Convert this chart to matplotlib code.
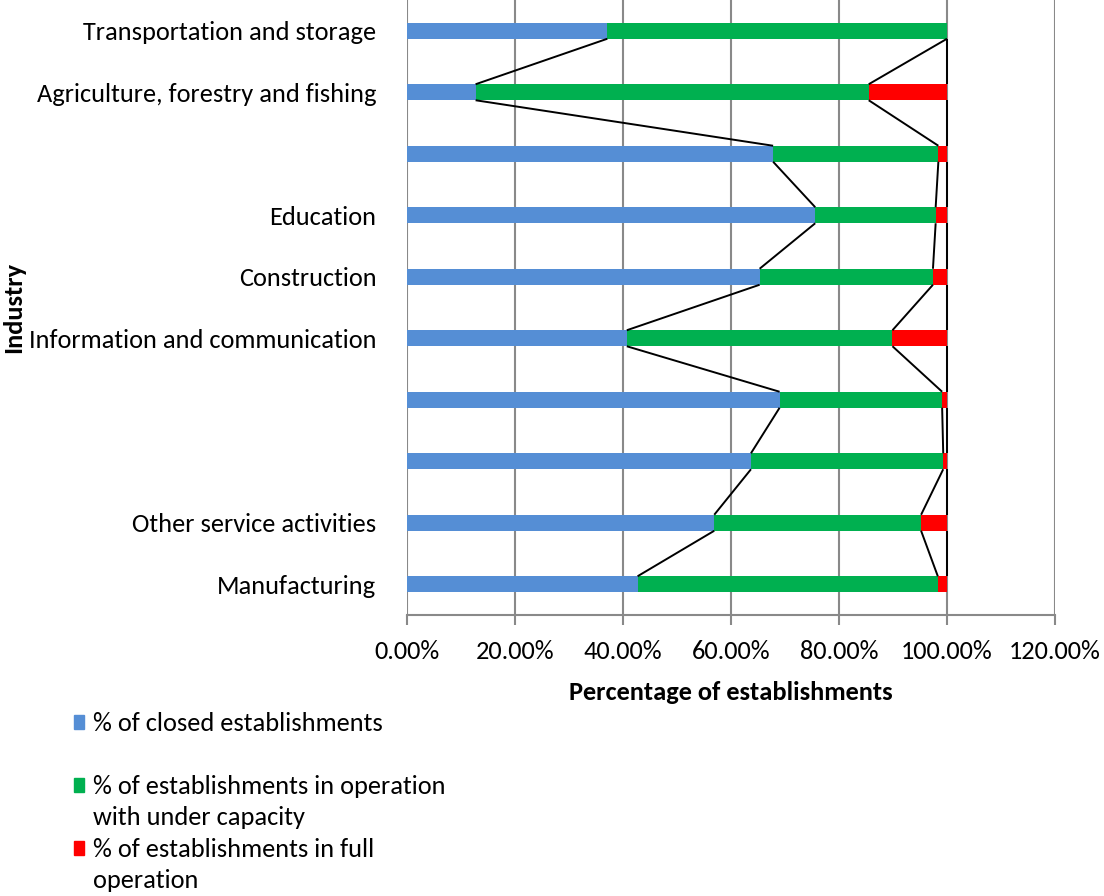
import numpy as np
import matplotlib.pyplot as plt
from matplotlib.patches import Rectangle

plt.rcParams['font.family'] = ['Carlito', 'Lato', 'DejaVu Sans']

# Industries from bottom to top; some rows carry no label
industries = [
    "Manufacturing",
    "Other service activities",
    "",
    "",
    "Information and communication",
    "Construction",
    "Education",
    "",
    "Agriculture, forestry and fishing",
    "Transportation and storage",
]
closed = [42.7, 56.9, 63.7, 69.0, 40.7, 65.3, 75.6, 67.8, 12.7, 37.1]
under_capacity = [55.6, 38.3, 35.6, 30.1, 49.2, 32.1, 22.3, 30.6, 72.8, 62.9]
full_operation = [1.7, 4.8, 0.7, 0.9, 10.1, 2.6, 2.1, 1.6, 14.5, 0.0]

series_names = [
    "% of closed establishments",
    "% of establishments in operation\nwith under capacity",
    "% of establishments in full\noperation",
]
colors = ["#558ED5", "#00B050", "#FF0000"]
FS = 19

fig = plt.figure(figsize=(11.04, 8.96), dpi=100)
ax = fig.add_axes([407 / 1104, 1 - 615 / 896, 648 / 1104, 615 / 896])

y = np.arange(len(industries))
h = 0.26
left = np.zeros(len(industries))
levels = []
for vals, color in zip([closed, under_capacity, full_operation], colors):
    vals = np.array(vals)
    ax.barh(y, vals, left=left, height=h, color=color, zorder=3)
    left = left + vals
    levels.append(left.copy())

# series lines joining the cumulative edges of neighbouring bars
for lev in levels:
    for i in range(len(industries) - 1):
        ax.plot([lev[i], lev[i + 1]], [i + h / 2, i + 1 - h / 2],
                color="black", lw=1.4, zorder=4, solid_capstyle="butt")

ax.set_xlim(0, 120)
ax.set_ylim(-0.5, len(industries) - 0.5)
ax.set_xticks(np.arange(0, 121, 20))
ax.set_xticklabels([f"{v:.2f}%" for v in np.arange(0, 121, 20)], fontsize=FS)
ax.set_yticks(y)
ax.set_yticklabels(industries, fontsize=FS)
ax.tick_params(axis="y", length=0, pad=22)
ax.tick_params(axis="x", length=7, width=1.5, color="#898989", pad=11, direction="out")
ax.grid(axis="x", color="#898989", lw=1.5, zorder=0)
for side in ["top", "right", "left"]:
    ax.spines[side].set_visible(False)
ax.spines["bottom"].set_color("#898989")
ax.spines["bottom"].set_linewidth(1.5)

ax.set_xlabel("Percentage of establishments", fontsize=FS, fontweight="bold")
ax.xaxis.set_label_coords(0.5, -0.108)
ax.set_ylabel("Industry", fontsize=FS, fontweight="bold")
ax.yaxis.set_label_coords(-0.59, 0.5)

# legend block under the chart
legend_rows = [722, 785, 848]
for name, color, ypx in zip(series_names, colors, legend_rows):
    fig.add_artist(Rectangle((74 / 1104, 1 - (ypx + 7) / 896), 10 / 1104, 14 / 896,
                             transform=fig.transFigure, color=color))
    fig.text(93 / 1104, 1 - (ypx - 10) / 896, name, fontsize=FS, va="top",
             ha="left", linespacing=1.4)

fig.savefig("out.png", dpi=100)
